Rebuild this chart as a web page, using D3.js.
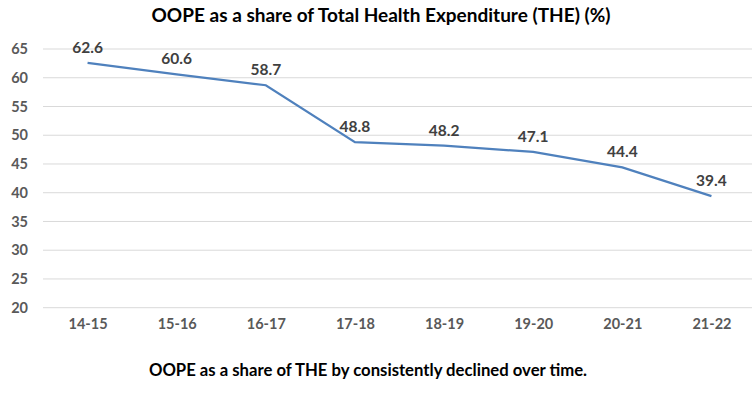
<!DOCTYPE html>
<html>
<head>
<meta charset="utf-8">
<script src="https://cdn.jsdelivr.net/npm/d3@7"></script>
<style>
  body { margin: 0; background: #fff; }
  text { font-family: Lato, "Open Sans", sans-serif; font-weight: bold; }
</style>
</head>
<body>
<div id="chart"></div>
<script>
var years  = ["14-15", "15-16", "16-17", "17-18", "18-19", "19-20", "20-21", "21-22"];
var oope   = [62.6, 60.6, 58.7, 48.8, 48.2, 47.1, 44.4, 39.4];
var yTicks = [20, 25, 30, 35, 40, 45, 50, 55, 60, 65];

var width  = 755;
var height = 394;

var svg = d3.select("#chart").append("svg")
    .attr("width", width)
    .attr("height", height);

var x = d3.scalePoint()
    .domain(years)
    .range([43, 756])
    .padding(0.5);

var y = d3.scaleLinear()
    .domain([20, 65])
    .range([307.7, 49]);

// grid lines
svg.append("g")
    .selectAll("line")
    .data(yTicks)
    .join("line")
    .attr("x1", 43)
    .attr("x2", 752)
    .attr("y1", function(d) { return y(d); })
    .attr("y2", function(d) { return y(d); })
    .attr("stroke", "#d9d9d9")
    .attr("stroke-width", 1);

// y axis labels
var yAxis = svg.append("g")
    .attr("transform", "translate(28,0)")
    .call(d3.axisLeft(y).tickValues(yTicks).tickSize(0).tickPadding(0));
yAxis.select(".domain").remove();
yAxis.selectAll("text")
    .attr("font-size", 14.5)
    .attr("fill", "#595959")
    .attr("font-family", "Lato, sans-serif");

// x axis labels
var xAxis = svg.append("g")
    .attr("transform", "translate(0,318)")
    .call(d3.axisBottom(x).tickSize(0).tickPadding(1));
xAxis.select(".domain").remove();
xAxis.selectAll("text")
    .attr("font-size", 14.5)
    .attr("fill", "#595959")
    .attr("font-family", "Lato, sans-serif");

// line
var line = d3.line()
    .x(function(d, i) { return x(years[i]); })
    .y(function(d) { return y(d); });

svg.append("path")
    .datum(oope)
    .attr("d", line)
    .attr("fill", "none")
    .attr("stroke", "#4f81bd")
    .attr("stroke-width", 2.25);

// data labels
svg.append("g")
    .selectAll("text")
    .data(oope)
    .join("text")
    .attr("x", function(d, i) { return x(years[i]); })
    .attr("y", function(d) { return y(d) - 10; })
    .attr("text-anchor", "middle")
    .attr("font-size", 15.5)
    .attr("fill", "#404040")
    .text(function(d) { return d.toFixed(1); });

// title
svg.append("text")
    .attr("x", 381)
    .attr("y", 22)
    .attr("text-anchor", "middle")
    .attr("font-size", 19)
    .attr("fill", "#000")
    .text("OOPE as a share of Total Health Expenditure (THE) (%)");

// caption
svg.append("text")
    .attr("x", 368)
    .attr("y", 376)
    .attr("text-anchor", "middle")
    .attr("font-size", 16.7)
    .attr("fill", "#000")
    .text("OOPE as a share of THE by consistently declined over time.");
</script>
</body>
</html>
